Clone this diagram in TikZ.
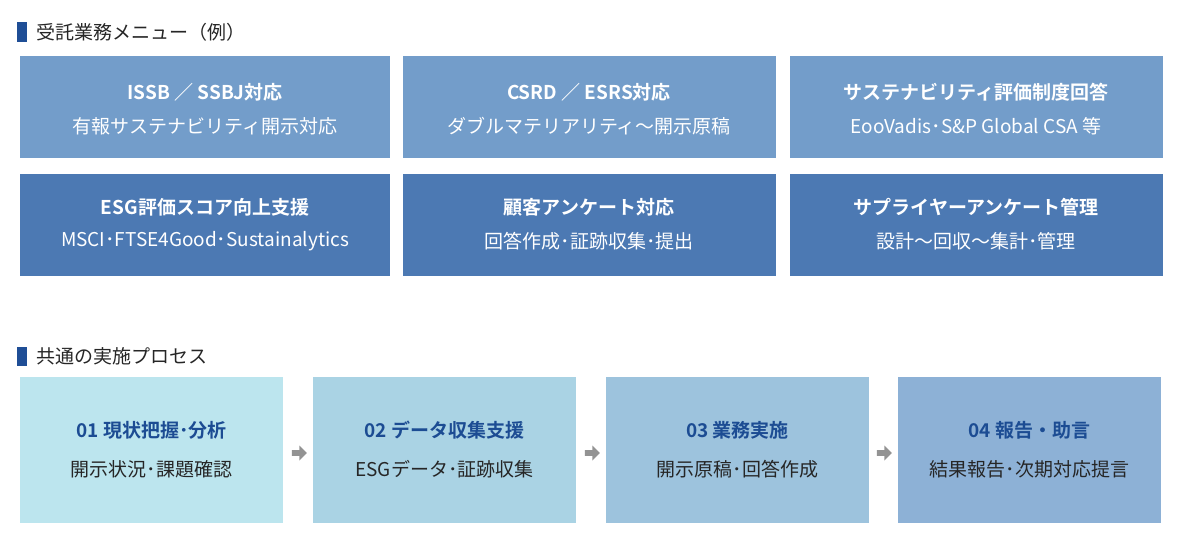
\documentclass[tikz,border=0pt]{standalone}
\usepackage{fontspec}
\setmainfont{Noto Sans CJK JP}
\newfontfamily\jpb{Noto Sans CJK JP Bold}
\usetikzlibrary{shapes.arrows}
\definecolor{mk}{HTML}{1F4E96}
\definecolor{ra}{HTML}{739DCA}
\definecolor{rb}{HTML}{4C79B3}
\definecolor{pa}{HTML}{BCE5EE}
\definecolor{pb}{HTML}{AAD3E4}
\definecolor{pc}{HTML}{9DC3DD}
\definecolor{pd}{HTML}{8DB1D6}
\definecolor{ht}{HTML}{1C4C93}
\definecolor{st}{HTML}{262626}
\begin{document}
\begin{tikzpicture}[x=1pt,y=-1pt,
 sec/.style={anchor=west,font=\fontsize{19}{22}\selectfont,text=st,inner sep=0},
 wt/.style={text=white,font=\jpb\fontsize{19}{22}\selectfont,inner sep=0},
 ws/.style={text=white,font=\fontsize{19}{22}\selectfont,inner sep=0},
 bh/.style={text=ht,font=\jpb\fontsize{19}{22}\selectfont,inner sep=0},
 bs/.style={text=st,font=\fontsize{19}{22}\selectfont,inner sep=0},
 arr/.style={single arrow,fill=gray!85,draw=none,minimum height=15pt,minimum width=15pt,single arrow head extend=2pt,inner sep=1pt}]
\useasboundingbox (0,0) rectangle (1182,544);
\fill[mk] (17,22) rectangle (27,42);
\node[sec] (t1) at (36,32) {受託業務メニュー（例）};
\fill[mk] (17,347) rectangle (27,366);
\node[sec] (t2) at (36,356) {共通の実施プロセス};
% row 1
\fill[ra] (20,56) rectangle (390,158);
\fill[ra] (403,56) rectangle (776,158);
\fill[ra] (790,56) rectangle (1163,158);
\node[wt] (a1) at (205,92) {ISSB ／ SSBJ対応};
\node[ws] (a2) at (205,126) {有報サステナビリティ開示対応};
\node[wt] (b1) at (589,92) {CSRD ／ ESRS対応};
\node[ws] (b2) at (589,126) {ダブルマテリアリティ〜開示原稿};
\node[wt] (c1) at (976,92) {サステナビリティ評価制度回答};
\node[ws] (c2) at (976,126) {EooVadis･S\&P Global CSA 等};
% row 2
\fill[rb] (20,174) rectangle (390,276);
\fill[rb] (403,174) rectangle (776,276);
\fill[rb] (790,174) rectangle (1163,276);
\node[wt] (d1) at (205,207) {ESG評価スコア向上支援};
\node[ws] (d2) at (205,241) {MSCI･FTSE4Good･Sustainalytics};
\node[wt] (e1) at (589,207) {顧客アンケート対応};
\node[ws] (e2) at (589,241) {回答作成･証跡収集･提出};
\node[wt] (f1) at (976,207) {サプライヤーアンケート管理};
\node[ws] (f2) at (976,241) {設計〜回収〜集計･管理};
% process
\node[fill=pa,minimum width=263pt,minimum height=146pt,inner sep=0] (p1) at (151.5,450) {};
\node[fill=pb,minimum width=263pt,minimum height=146pt,inner sep=0] (p2) at (444.5,450) {};
\node[fill=pc,minimum width=263pt,minimum height=146pt,inner sep=0] (p3) at (737.5,450) {};
\node[fill=pd,minimum width=263pt,minimum height=146pt,inner sep=0] (p4) at (1029.5,450) {};
\node[bh] at (151.5,430) {01 現状把握･分析};
\node[bs] at (151.5,469) {開示状況･課題確認};
\node[bh] at (444.5,430) {02 データ収集支援};
\node[bs] at (444.5,469) {ESGデータ･証跡収集};
\node[bh] at (737.5,430) {03 業務実施};
\node[bs] at (737.5,469) {開示原稿･回答作成};
\node[bh] at (1029.5,430) {04 報告・助言};
\node[bs] at (1029.5,469) {結果報告･次期対応提言};
\node[arr] at (298,453) {};
\node[arr] at (591,453) {};
\node[arr] at (883,453) {};
\end{tikzpicture}
\end{document}
